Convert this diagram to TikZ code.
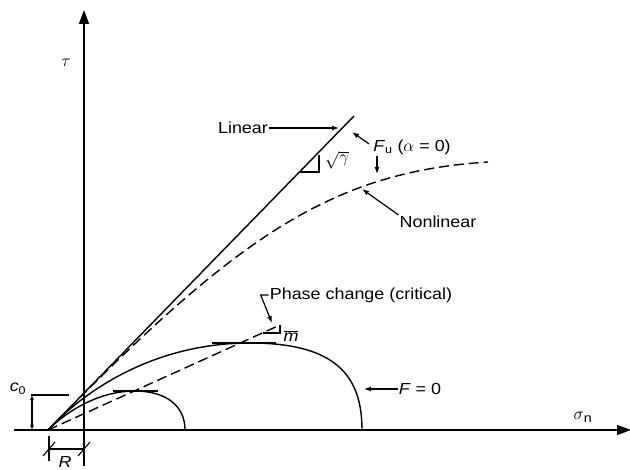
\documentclass[tikz,border=0pt]{standalone}
\usepackage{fontspec}
\setmainfont{Liberation Sans}[FakeStretch=1.12]
\usetikzlibrary{arrows.meta, positioning}
\tikzset{
  eje/.style={line width=1.7pt, -{Triangle[length=14pt, width=10pt]}},
  curva/.style={line width=1.4pt},
  curvad/.style={curva, dash pattern=on 10pt off 5pt},
  etiq/.style={font=\fontsize{16}{19}\selectfont, inner sep=1pt},
  ejeetiq/.style={font=\fontsize{18}{21}\selectfont, inner sep=1pt},
  flecha/.style={line width=1.2pt, -{Latex[length=7pt, width=5pt]}},
  cota/.style={line width=1.1pt},
  cotaf/.style={cota, {Latex[length=5pt, width=4pt]}-{Latex[length=5pt, width=4pt]}}
}

\begin{document}
\begin{tikzpicture}[x=1pt, y=-1pt]
  \useasboundingbox (0,0) rectangle (630,470);
  % axes
  \coordinate (ybot) at (84,466);
  \coordinate (ytop) at (84,10);
  \coordinate (xleft) at (14,430);
  \coordinate (xright) at (631,430);
  \draw[eje] (ybot) -- (ytop);
  \draw[eje] (xleft) -- (xright);
  \node[ejeetiq] (tau) at (66,63) {$\tau$};
  \node[ejeetiq] (sig) at (583,417) {$\sigma$\textsubscript{n}};

  % envelopes
  \coordinate (O) at (48,430);
  \coordinate (linend) at (354,116);
  \draw[curva] (O) -- (linend);
  \draw[curva] (300,172) -- (319,172) -- (319,155);
  \node[etiq] (gam) at (337,160) {$\sqrt{\gamma}$};
  \draw[curvad] (O) .. controls (235,238) and (330,172) .. (488,162);
  \coordinate (phend) at (280,325);
  \draw[curvad] (O) -- (phend);
  \draw[curva] (263,333) -- (280,333) -- (phend);
  \node[etiq] (mbar) at (291,336) {$\overline{\mbox{\textit{m}}}$};

  % yield curves
  \draw[curva] (O) .. controls (68,410) and (100,391) .. (135,391)
    .. controls (165,391) and (185,405) .. (185,430);
  \draw[curva] (113,391) -- (158,391);
  \draw[curva] (O) .. controls (90,385) and (160,343) .. (250,343)
    .. controls (335,343) and (362,375) .. (362,430);
  \draw[curva] (212,343) -- (276,343);

  % labels
  \node[etiq] (lin) at (243,128) {Linear};
  \coordinate (linP) at (339,128);
  \draw[flecha] (lin) -- (linP);
  \node[etiq] (fu) at (412,147) {\textit{F}\textsubscript{u} ($\alpha$ = 0)};
  \coordinate (fuP) at (352,132);
  \coordinate (fuD) at (377,174);
  \draw[flecha] ([xshift=-3pt, yshift=3pt]fu.west) -- (fuP);
  \draw[flecha] (fuD |- fu.south) -- (fuD);
  \node[etiq] (nonlin) at (438,222) {Nonlinear};
  \coordinate (nlP) at (362,189);
  \draw[flecha] (nonlin.north west) -- (nlP);
  \node[etiq] (phase) at (361,295) {Phase change (critical)};
  \coordinate (phP) at (272,323);
  \draw[flecha] (phase.west) -- ++(-8,0) -- (phP);
  \node[etiq] (fzero) at (420,389) {\textit{F} = 0};
  \coordinate (fzP) at (364,389);
  \draw[flecha] (fzero) -- (fzP);

  % c0 and R
  \draw[cotaf] (32,395) -- (32,430);
  \draw[cota] (31,395) -- (69,395);
  \node[etiq] (czero) at (18,389) {\textit{c}\textsubscript{0}};
  \coordinate (Ra) at (49,449);
  \coordinate (Rb) at (84,449);
  \draw[cota] (49,436) -- (49,461);
  \draw[cota] (Ra) -- (Rb);
  \draw[cota] (Ra) ++(-6,7) -- ++(12,-14);
  \draw[cota] (Rb) ++(-6,7) -- ++(12,-14);
  \node[etiq] (rlab) at (65,462) {\textit{R}};
\end{tikzpicture}
\end{document}
